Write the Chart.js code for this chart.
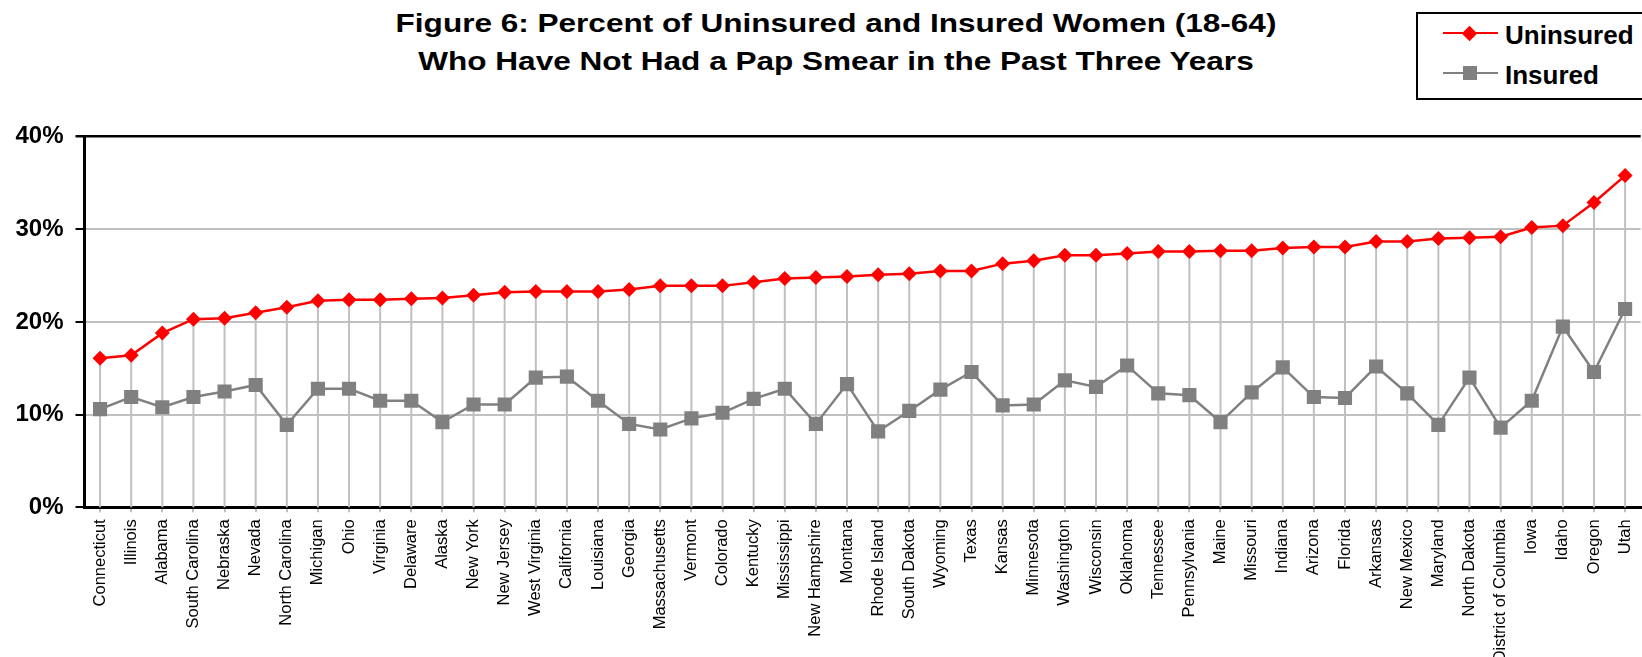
<!DOCTYPE html>
<html>
<head>
<meta charset="utf-8">
<script src="https://cdn.jsdelivr.net/npm/chart.js@4"></script>
<style>
  html, body { margin: 0; padding: 0; background: #fff; width: 1642px; height: 657px; overflow: hidden; position: relative; }
  body { font-family: "Liberation Sans", Arial, sans-serif; }
  #chart { position: absolute; left: 0; top: 0; }
  #title {
    position: absolute; left: 236px; top: 3.5px; width: 1200px;
    text-align: center; font-weight: bold; font-size: 26.5px; line-height: 38px;
    transform: scaleX(1.19); transform-origin: 50% 0; color: #000;
  }
  #legend {
    position: absolute; left: 1416px; top: 12px; width: 260px; height: 84px;
    border: 2px solid #000; background: #fff;
  }
  .row { position: absolute; left: 0; width: 100%; height: 40px; }
  .lline { position: absolute; left: 25px; width: 55px; height: 2.5px; top: -1.25px; }
  .mark { position: absolute; }
  .ltext { position: absolute; left: 87px; font-weight: bold; font-size: 26px; line-height: 26px; white-space: nowrap; }
</style>
</head>
<body>
<div id="title">Figure 6: Percent of Uninsured and Insured Women (18-64)<br>Who Have Not Had a Pap Smear in the Past Three Years</div>
<div id="legend">
  <div class="row" style="top:19px">
    <div class="lline" style="background:#ff0000"></div>
    <div class="mark" style="left:45.5px;top:-5.5px;width:11px;height:11px;background:#ff0000;transform:rotate(45deg)"></div>
    <div class="ltext" style="top:-11px">Uninsured</div>
  </div>
  <div class="row" style="top:59px">
    <div class="lline" style="background:#808080"></div>
    <div class="mark" style="left:45px;top:-7px;width:14px;height:14px;background:#808080"></div>
    <div class="ltext" style="top:-11.5px">Insured</div>
  </div>
</div>
<canvas id="chart" width="1652" height="670"></canvas>
<script>
// Staaten, sortiert nach Anteil der Nichtversicherten
const states = ['Connecticut', 'Illinois', 'Alabama', 'South Carolina', 'Nebraska', 'Nevada',
  'North Carolina', 'Michigan', 'Ohio', 'Virginia', 'Delaware', 'Alaska', 'New York', 'New Jersey',
  'West Virginia', 'California', 'Louisiana', 'Georgia', 'Massachusetts', 'Vermont', 'Colorado',
  'Kentucky', 'Mississippi', 'New Hampshire', 'Montana', 'Rhode Island', 'South Dakota', 'Wyoming',
  'Texas', 'Kansas', 'Minnesota', 'Washington', 'Wisconsin', 'Oklahoma', 'Tennessee', 'Pennsylvania',
  'Maine', 'Missouri', 'Indiana', 'Arizona', 'Florida', 'Arkansas', 'New Mexico', 'Maryland',
  'North Dakota', 'District of Columbia', 'Iowa', 'Idaho', 'Oregon', 'Utah'];

const uninsured = [16.1, 16.4, 18.8, 20.3, 20.4, 21.0, 21.6, 22.3, 22.4, 22.4, 22.5, 22.6, 22.9, 23.2,
  23.3, 23.3, 23.3, 23.5, 23.9, 23.9, 23.9, 24.3, 24.7, 24.8, 24.9, 25.1, 25.2, 25.5, 25.5, 26.3,
  26.6, 27.2, 27.2, 27.4, 27.6, 27.6, 27.7, 27.7, 28.0, 28.1, 28.1, 28.7, 28.7, 29.0, 29.1, 29.2,
  30.2, 30.4, 32.9, 35.8];

const insured = [10.6, 11.9, 10.8, 11.9, 12.5, 13.2, 8.9, 12.8, 12.8, 11.5, 11.5, 9.2, 11.1, 11.1,
  14.0, 14.1, 11.5, 9.0, 8.4, 9.6, 10.2, 11.7, 12.8, 9.0, 13.3, 8.2, 10.4, 12.7, 14.6, 11.0,
  11.1, 13.7, 13.0, 15.3, 12.3, 12.1, 9.2, 12.4, 15.1, 11.9, 11.8, 15.2, 12.3, 8.9, 14.0, 8.6,
  11.5, 19.5, 14.6, 21.4];

const yTicks = [0, 10, 20, 30, 40];

const H = 670;
const FONT = '"Liberation Sans", Arial, sans-serif';

// Senkrechte Linien vom hoechsten Punkt bis zur Achse (wie Excel "drop lines")
const dropLines = {
  id: 'dropLines',
  beforeDatasetsDraw(chart) {
    const { ctx, chartArea } = chart;
    const a = chart.getDatasetMeta(0).data;
    const b = chart.getDatasetMeta(1).data;
    ctx.save();
    ctx.strokeStyle = '#c0c0c0';
    ctx.lineWidth = 2;
    a.forEach((pt, i) => {
      const top = Math.min(pt.y, b[i].y);
      ctx.beginPath();
      ctx.moveTo(pt.x, top);
      ctx.lineTo(pt.x, chartArea.bottom);
      ctx.stroke();
    });
    ctx.restore();
  }
};

new Chart(document.getElementById('chart'), {
  type: 'line',
  data: {
    labels: states,
    datasets: [{
      label: 'Uninsured',
      data: uninsured,
      borderColor: '#ff0000',
      backgroundColor: '#ff0000',
      borderWidth: 2.5,
      pointStyle: 'rectRot',
      pointRadius: 7.5,
      pointBorderWidth: 0,
      tension: 0
    }, {
      label: 'Insured',
      data: insured,
      borderColor: '#808080',
      backgroundColor: '#808080',
      borderWidth: 2.5,
      pointStyle: 'rect',
      pointRadius: 10,
      pointBorderWidth: 0,
      tension: 0
    }]
  },
  options: {
    responsive: false,
    animation: false,
    layout: { padding: { top: 136.7, right: 4, left: 0, bottom: 0 } },
    plugins: {
      legend: { display: false },
      title: { display: false },
      tooltip: { enabled: false }
    },
    scales: {
      x: {
        offset: true,
        afterFit: s => { s.height = H - 507.3; },
        grid: { drawOnChartArea: false, tickLength: 5, tickColor: '#c0c0c0', lineWidth: 2, offset: false },
        border: { color: '#000', width: 3 },
        ticks: {
          autoSkip: false, maxRotation: 90, minRotation: 90, padding: 7,
          color: '#000', font: { family: FONT, size: 16.5 }
        }
      },
      y: {
        min: 0, max: 40,
        afterFit: s => { s.width = 84.5; },
        afterBuildTicks: s => { s.ticks = yTicks.map(v => ({ value: v })); },
        grid: {
          color: c => c.tick && c.tick.value === 40 ? '#000' : '#c0c0c0',
          lineWidth: c => c.tick && c.tick.value === 40 ? 2.5 : 2,
          tickColor: '#000', tickLength: 9
        },
        border: { color: '#000', width: 3 },
        ticks: {
          padding: 12,
          color: '#000',
          font: { family: FONT, size: 24, weight: 'bold' },
          callback: v => v + '%'
        }
      }
    }
  },
  plugins: [dropLines]
});
</script>
</body>
</html>
